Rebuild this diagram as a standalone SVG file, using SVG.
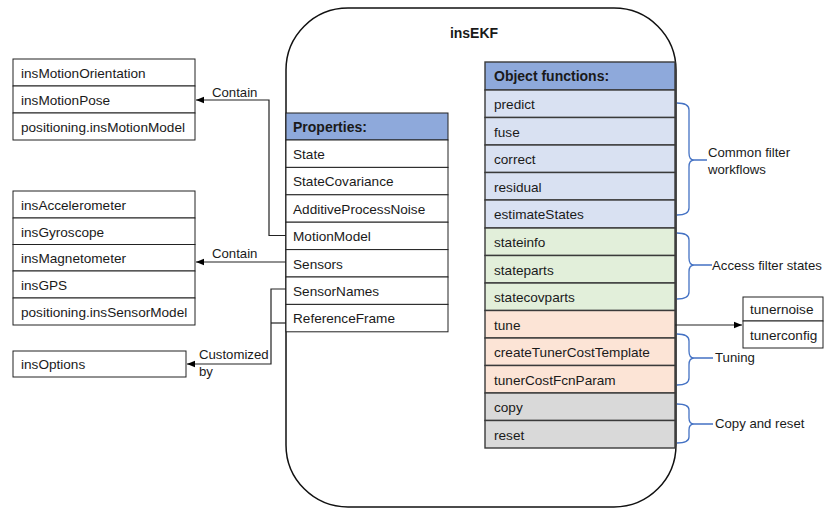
<svg xmlns="http://www.w3.org/2000/svg" width="824" height="508" viewBox="0 0 824 508">
<defs>
<marker id="arr" viewBox="0 0 8 8" refX="8" refY="4" markerWidth="8" markerHeight="8" markerUnits="userSpaceOnUse" orient="auto">
<path d="M0,0.8 L8,4 L0,7.2 Z" fill="#000"/>
</marker>
<style>
text{font-family:"Liberation Sans",Arial,sans-serif;fill:#1a1a1a}
.t{font-size:13.6px}
.b{font-size:14px;font-weight:bold}
.l{font-size:13.2px}
.cell{stroke:#222;stroke-width:1}
.of{stroke:#3a3a3a;stroke-width:1.4}
.hd{fill:#8EA9DB}
.wt{fill:#fff}
.bl{fill:#D9E1F2}
.gr{fill:#E2EFDA}
.or{fill:#FCE4D6}
.gy{fill:#D9D9D9}
.con{fill:none;stroke:#222;stroke-width:1.2}
.brace{fill:none;stroke:#4472C4;stroke-width:1.3}
</style>
</defs>

<g id="insEKF">
<rect x="286" y="8" width="390" height="499" rx="62" ry="62" fill="#fff" stroke="#111" stroke-width="1.5"/>
<text class="b" x="474" y="38" text-anchor="middle">insEKF</text>
</g>

<g id="properties">
<rect class="cell hd" x="286" y="113" width="162" height="27"/>
<text class="b" x="293" y="132">Properties:</text>
<rect class="cell wt" x="286" y="140" width="162" height="27.4"/>
<text class="t" x="293" y="159">State</text>
<rect class="cell wt" x="286" y="167.4" width="162" height="27.4"/>
<text class="t" x="293" y="186.4">StateCovariance</text>
<rect class="cell wt" x="286" y="194.8" width="162" height="27.4"/>
<text class="t" x="293" y="213.8">AdditiveProcessNoise</text>
<rect class="cell wt" x="286" y="222.2" width="162" height="27.4"/>
<text class="t" x="293" y="241.2">MotionModel</text>
<rect class="cell wt" x="286" y="249.6" width="162" height="27.4"/>
<text class="t" x="293" y="268.6">Sensors</text>
<rect class="cell wt" x="286" y="277" width="162" height="27.4"/>
<text class="t" x="293" y="296">SensorNames</text>
<rect class="cell wt" x="286" y="304.4" width="162" height="27.4"/>
<text class="t" x="293" y="323.4">ReferenceFrame</text>
</g>

<g id="object-functions">
<rect class="of hd" x="485" y="62" width="190" height="28"/>
<text class="b" x="494" y="81">Object functions:</text>
<rect class="of bl" x="485" y="90" width="190" height="27.5"/>
<text class="t" x="494" y="109">predict</text>
<rect class="of bl" x="485" y="117.5" width="190" height="27.5"/>
<text class="t" x="494" y="136.5">fuse</text>
<rect class="of bl" x="485" y="145" width="190" height="27.5"/>
<text class="t" x="494" y="164">correct</text>
<rect class="of bl" x="485" y="172.5" width="190" height="27.5"/>
<text class="t" x="494" y="191.5">residual</text>
<rect class="of bl" x="485" y="200" width="190" height="28"/>
<text class="t" x="494" y="219">estimateStates</text>
<rect class="of gr" x="485" y="228" width="190" height="27.5"/>
<text class="t" x="494" y="247">stateinfo</text>
<rect class="of gr" x="485" y="255.5" width="190" height="27.5"/>
<text class="t" x="494" y="274.5">stateparts</text>
<rect class="of gr" x="485" y="283" width="190" height="27.5"/>
<text class="t" x="494" y="302">statecovparts</text>
<rect class="of or" x="485" y="310.5" width="190" height="27.5"/>
<text class="t" x="494" y="329.5">tune</text>
<rect class="of or" x="485" y="338" width="190" height="27.5"/>
<text class="t" x="494" y="357">createTunerCostTemplate</text>
<rect class="of or" x="485" y="365.5" width="190" height="27.5"/>
<text class="t" x="494" y="384.5">tunerCostFcnParam</text>
<rect class="of gy" x="485" y="393" width="190" height="27.5"/>
<text class="t" x="494" y="412">copy</text>
<rect class="of gy" x="485" y="420.5" width="190" height="27.5"/>
<text class="t" x="494" y="439.5">reset</text>
</g>

<g id="motion-models">
<rect class="cell wt" x="13" y="59" width="182" height="27"/>
<text class="t" x="21" y="78">insMotionOrientation</text>
<rect class="cell wt" x="13" y="86" width="182" height="27"/>
<text class="t" x="21" y="105">insMotionPose</text>
<rect class="cell wt" x="13" y="113" width="182" height="27"/>
<text class="t" x="21" y="132">positioning.insMotionModel</text>
</g>

<g id="sensor-models">
<rect class="cell wt" x="13" y="191" width="182" height="27"/>
<text class="t" x="21" y="210">insAccelerometer</text>
<rect class="cell wt" x="13" y="218" width="182" height="26.5"/>
<text class="t" x="21" y="236.5">insGyroscope</text>
<rect class="cell wt" x="13" y="244.5" width="182" height="26.5"/>
<text class="t" x="21" y="263">insMagnetometer</text>
<rect class="cell wt" x="13" y="271" width="182" height="27"/>
<text class="t" x="21" y="290">insGPS</text>
<rect class="cell wt" x="13" y="298" width="182" height="27"/>
<text class="t" x="21" y="317">positioning.insSensorModel</text>
</g>

<g id="options">
<rect class="cell wt" x="13" y="351" width="173" height="26"/>
<text class="t" x="21" y="369">insOptions</text>
</g>

<g id="tuner">
<rect class="cell wt" x="743" y="297" width="80" height="24"/>
<text class="t" x="750" y="314">tunernoise</text>
<rect class="cell wt" x="743" y="321" width="80" height="27"/>
<text class="t" x="750" y="339.5">tunerconfig</text>
</g>

<g id="connectors">
<path class="con" d="M286,235.5 H269 V100 H196" marker-end="url(#arr)"/>
<text class="l" x="212" y="97">Contain</text>
<path class="con" d="M286,262 H196" marker-end="url(#arr)"/>
<text class="l" x="212" y="258">Contain</text>
<path class="con" d="M286,289 H271 V364 H187" marker-end="url(#arr)"/>
<path class="con" d="M286,323 H271"/>
<text class="l" x="199" y="359">Customized</text>
<text class="l" x="199" y="376">by</text>
<path class="con" d="M675,325 H742" marker-end="url(#arr)"/>
</g>

<g id="braces">
<path class="brace" d="M677,103 Q689,103 689,110 V153 Q689,160 694,160 H707 M694,160 Q689,160 689,167 V208 Q689,215 677,215"/>
<text class="l" x="708" y="157">Common filter</text>
<text class="l" x="708" y="174">workflows</text>
<path class="brace" d="M677,233 Q689,233 689,240 V258 Q689,265 694,265 H712 M694,265 Q689,265 689,272 V292 Q689,299 677,299"/>
<text class="l" x="712" y="270">Access filter states</text>
<path class="brace" d="M677,334 Q689,334 689,341 V351 Q689,358 694,358 H713 M694,358 Q689,358 689,365 V378 Q689,385 677,385"/>
<text class="l" x="715" y="362">Tuning</text>
<path class="brace" d="M677,404 Q689,404 689,410 V418 Q689,424 694,424 H713 M694,424 Q689,424 689,430 V437 Q689,443 677,443"/>
<text class="l" x="715" y="428">Copy and reset</text>
</g>
</svg>
